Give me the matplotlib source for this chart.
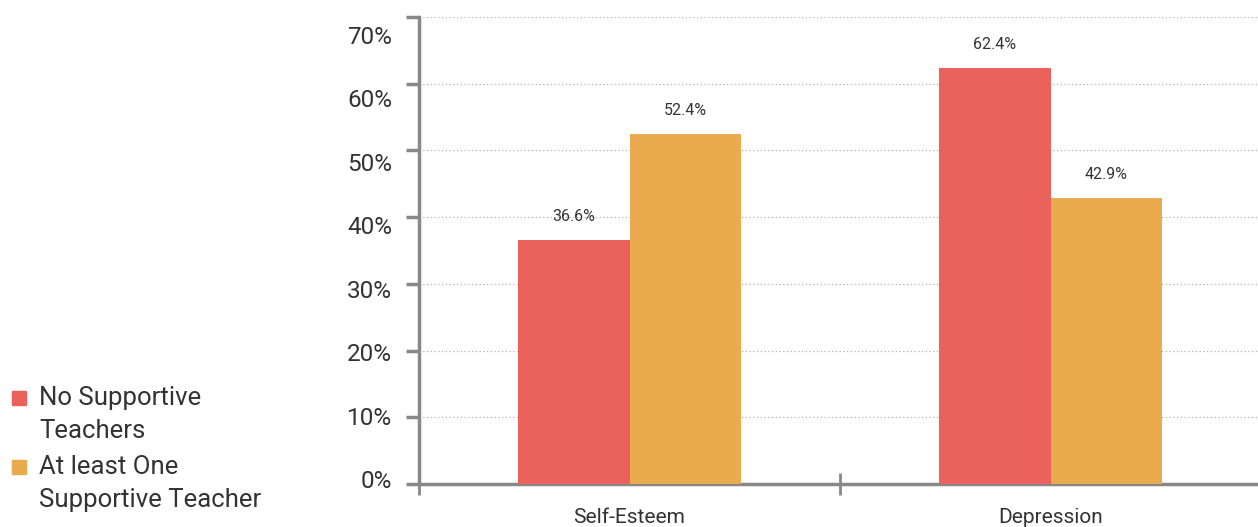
import matplotlib.pyplot as plt
import numpy as np
from matplotlib.patches import Rectangle
from matplotlib.transforms import ScaledTranslation

plt.rcParams['font.family'] = ['Roboto', 'DejaVu Sans']

categories = ['Self-Esteem', 'Depression']
series_names = ['No Supportive\nTeachers', 'At least One\nSupportive Teacher']
no_support = [36.6, 62.4]
one_support = [52.4, 42.9]
colors = ['#EB615B', '#E9AB4E']
yticks = [0, 10, 20, 30, 40, 50, 60, 70]

W, H = 1258, 527
fig = plt.figure(figsize=(W / 100, H / 100), dpi=100)
ax = fig.add_axes([419 / W, 1 - 484 / H, 842 / W, (484 - 17) / H])

x = np.arange(len(categories))
w = 0.266
b1 = ax.bar(x - w / 2, no_support, w, color=colors[0], zorder=3)
b2 = ax.bar(x + w / 2, one_support, w, color=colors[1], zorder=3)

for bars, vals in [(b1, no_support), (b2, one_support)]:
    for r, v in zip(bars, vals):
        ax.annotate(f'{v}%', (r.get_x() + r.get_width() / 2, v), xytext=(0, 17),
                    textcoords='offset points', ha='center', va='center',
                    fontsize=11.5, color='#333333')

ax.set_xlim(-0.5, 1.5)
ax.set_ylim(0, 70)
ax.set_yticks(yticks)
ax.set_yticklabels([f'{t}%' for t in yticks], fontsize=17.5, color='#333333')
ax.set_xticks([-0.5, 0.5, 1.5])
ax.set_xticklabels([])
ax.set_xticks(x, minor=True)
ax.set_xticklabels(categories, minor=True, fontsize=15, color='#333333')
ax.tick_params(axis='x', which='minor', length=0, pad=17)
ax.tick_params(axis='x', which='major', direction='inout', length=16.5, width=2, color='#888888')
ax.tick_params(axis='y', direction='out', length=9.4, width=2.5, color='#888888', pad=10)

# tick labels sit slightly compressed relative to gridlines in the original
for lab, t in zip(ax.get_yticklabels(), yticks):
    off = -5 + 23 * t / 70
    lab.set_transform(lab.get_transform() + ScaledTranslation(0, -off / 100, fig.dpi_scale_trans))

for s in ['top', 'right']:
    ax.spines[s].set_visible(False)
for s in ['left', 'bottom']:
    ax.spines[s].set_color('#888888')
    ax.spines[s].set_linewidth(2.5)

ax.yaxis.grid(True, linestyle=(0, (1, 2)), color='#b0b0b0', linewidth=0.9, zorder=0)
ax.set_axisbelow(True)

# legend, drawn by hand so the swatch lines up with the first text line
for i, (name, c) in enumerate(zip(series_names, colors)):
    ytop = 386 + i * 69
    fig.add_artist(Rectangle((12 / W, 1 - (ytop + 19) / H), 14 / W, 14 / H,
                             color=c, transform=fig.transFigure))
    fig.text(39 / W, 1 - ytop / H, name, fontsize=18.5, color='#333333',
             va='top', ha='left', linespacing=1.45)

fig.savefig('out.png', dpi=100)
